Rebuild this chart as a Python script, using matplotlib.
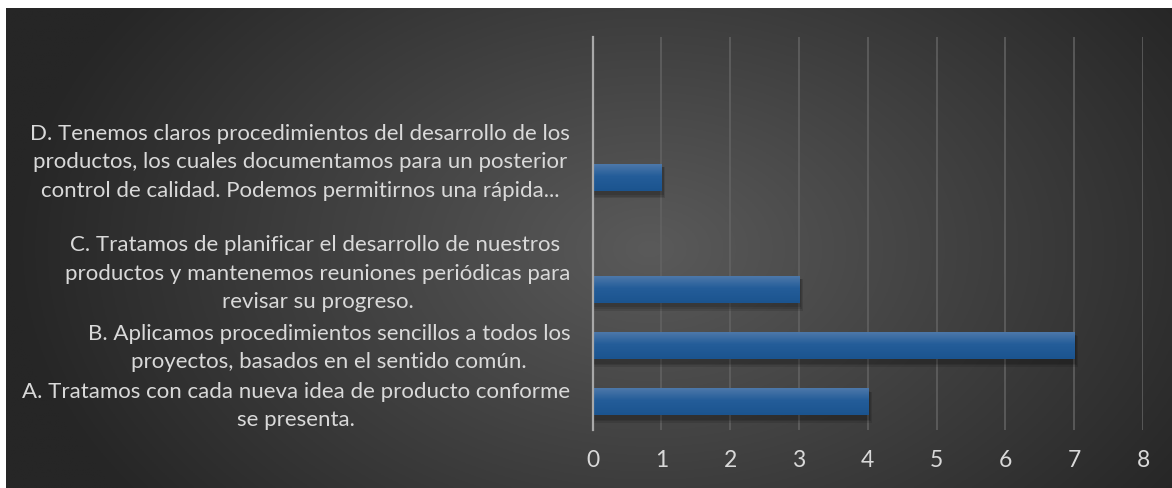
import numpy as np
import matplotlib
matplotlib.use("Agg")
import matplotlib.pyplot as plt
from matplotlib.colors import LinearSegmentedColormap

plt.rcParams['font.family'] = ['Lato', 'DejaVu Sans']

# ---- data ----
categories = [
    "A. Tratamos con cada nueva idea de producto conforme\nse presenta.",
    "B. Aplicamos procedimientos sencillos a todos los\nproyectos, basados en el sentido común.",
    "C. Tratamos de planificar el desarrollo de nuestros \nproductos y mantenemos reuniones periódicas para\nrevisar su progreso.",
    "",
    "D. Tenemos claros procedimientos del desarrollo de los\nproductos, los cuales documentamos para un posterior\ncontrol de calidad. Podemos permitirnos una rápida...",
    "",
    "",
]
values = [4, 7, 3, 0, 1, 0, 0]
xticks = [0, 1, 2, 3, 4, 5, 6, 7, 8]
xticklabels = ["0", "1", "2", "3", "4", "5", "6", "7", "8"]
# vertical nudge of each category label (pixels, + = up)
label_nudge_px = [-3, -1, 17, 0, 16, 0, 0]

W, H = 1172, 489
fig = plt.figure(figsize=(W / 100, H / 100), dpi=100)
fig.patch.set_facecolor("white")

# ---- background with radial gradient ----
bg = fig.add_axes([6 / W, 0, 1 - 6 / W, 480 / H])
bg.set_axis_off()
gx = np.linspace(6, W, 600)
gy = np.linspace(9, H, 260)
X, Y = np.meshgrid(gx, gy)
cx, cy, rx, ry = 650, 250, 640, 430
R = np.sqrt(((X - cx) / rx) ** 2 + ((Y - cy) / ry) ** 2)
R = np.clip(R, 0, 1)
c_in = np.array([90, 90, 90]) / 255
c_out = np.array([38, 38, 38]) / 255
img = c_in[None, None, :] * (1 - R[..., None]) + c_out[None, None, :] * R[..., None]
bg.imshow(img, aspect="auto", extent=[0, 1, 0, 1], origin="upper")
bg.set_xlim(0, 1)
bg.set_ylim(0, 1)

# ---- main axes ----
left, right, top, bottom = 592.5, 1143, 38, 431
ax = fig.add_axes([left / W, 1 - bottom / H, (right - left) / W, (bottom - top) / H])
ax.set_facecolor("none")
ypos = np.arange(len(categories))

bar_h = 0.48
bar_cmap = LinearSegmentedColormap.from_list(
    "barg", [(0.0, "#1b548f"), (0.55, "#245d99"), (1.0, "#4d78aa")])
grad = np.linspace(0, 1, 64).reshape(-1, 1)

for y, v in zip(ypos, values):
    if v <= 0:
        continue
    # soft shadow
    for k, a in enumerate([0.11, 0.11, 0.11]):
        d = (k + 1) * 0.025
        ax.barh(y - 0.05 - d * 0.6, v + 0.02 + d * 0.5, height=bar_h + d, left=0,
                color="black", alpha=a, linewidth=0, zorder=2)
    b = ax.barh(y, v, height=bar_h, left=0, color="#245d99", linewidth=0, zorder=3)[0]
    im = ax.imshow(grad, cmap=bar_cmap, aspect="auto", origin="lower",
                   extent=[0, v, y - bar_h / 2, y + bar_h / 2], zorder=4)
    im.set_clip_path(b)

ax.set_xlim(0, 8)
ax.set_ylim(-0.5, len(categories) - 0.5)

# gridlines
ax.set_xticks(xticks)
ax.set_xticklabels(xticklabels)
ax.grid(axis="x", color="#636363", linewidth=1.1, zorder=1)
ax.set_axisbelow(True)
for s in ["top", "right", "bottom"]:
    ax.spines[s].set_visible(False)
ax.spines["left"].set_color("#a8a8a8")
ax.spines["left"].set_linewidth(1.6)
ax.spines["left"].set_zorder(5)
ax.tick_params(axis="x", length=0, pad=14, labelsize=16.5, labelcolor="#d9d9d9")
ax.tick_params(axis="y", length=0)
ax.set_yticks([])

# category labels
for y, lab, nud in zip(ypos, categories, label_nudge_px):
    if not lab:
        continue
    ax.annotate(lab, xy=(0, y), xycoords=("axes fraction", "data"),
                xytext=(-16, nud * 0.72), textcoords="offset points",
                ha="right", va="center", multialignment="center",
                fontsize=16, color="#d9d9d9", linespacing=1.53)

fig.savefig("out.png", dpi=100, facecolor="white")
